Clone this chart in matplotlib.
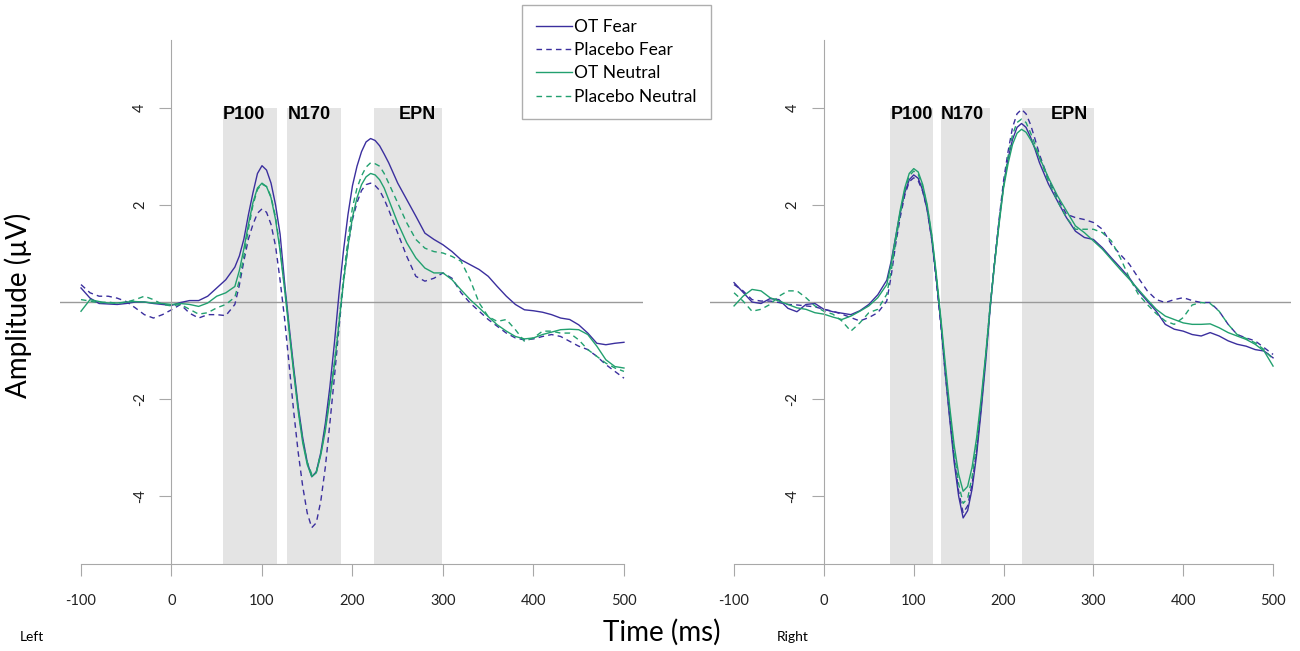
import matplotlib.pyplot as plt

plt.rcParams['font.family'] = ['Lato', 'DejaVu Sans']

# sample times (ms); finer steps around the P100 / N170 / EPN peaks
time_ms = list(range(-100, 71, 10)) + list(range(75, 236, 5)) + list(range(240, 501, 10))

labels = ["OT Fear", "Placebo Fear", "OT Neutral", "Placebo Neutral"]

# ---- left hemisphere ----
left_ot_fear = [0.29, 0.08, -0.03, -0.04, -0.05, -0.03, 0.0, 0.0, -0.03, -0.05, -0.07, -0.01, 0.03, 0.03, 0.12, 0.29, 0.46, 0.72,
                0.95, 1.3, 1.8, 2.25, 2.65, 2.81, 2.72, 2.45, 2.0, 1.4, 0.4, -0.5, -1.35, -2.15, -2.8, -3.3, -3.6, -3.5, -3.1, -2.5,
                -1.75, -0.85, 0.15, 1.05, 1.8, 2.4, 2.8, 3.1, 3.3, 3.37, 3.33, 3.22, 3.05,
                2.87, 2.45, 2.11, 1.77, 1.42, 1.29, 1.18, 1.04, 0.87, 0.77, 0.67, 0.53, 0.32, 0.12, -0.05, -0.16, -0.18, -0.21,
                -0.26, -0.33, -0.36, -0.47, -0.64, -0.85, -0.88, -0.85, -0.83]
left_pl_fear = [0.36, 0.19, 0.12, 0.12, 0.08, 0.01, -0.12, -0.26, -0.33, -0.26, -0.16, -0.05, -0.23, -0.33, -0.26, -0.26, -0.28, -0.05,
                0.35, 0.85, 1.3, 1.6, 1.83, 1.92, 1.85, 1.6, 1.15, 0.45, -0.35, -1.3, -2.25, -3.1, -3.8, -4.35, -4.65, -4.55, -4.1, -3.4,
                -2.5, -1.55, -0.55, 0.4, 1.15, 1.7, 2.05, 2.3, 2.42, 2.45, 2.4, 2.3, 2.12,
                1.9, 1.42, 0.94, 0.53, 0.43, 0.49, 0.60, 0.49, 0.19, -0.02, -0.19, -0.36, -0.50, -0.64, -0.74, -0.78, -0.76, -0.71,
                -0.67, -0.71, -0.81, -0.91, -0.98, -1.12, -1.29, -1.43, -1.57]
left_ot_neutral = [-0.19, 0.05, 0.01, -0.02, -0.02, 0.0, 0.01, 0.0, -0.02, -0.03, -0.05, -0.03, -0.05, -0.09, -0.02, 0.12, 0.19, 0.32,
                   0.65, 1.1, 1.6, 2.05, 2.35, 2.45, 2.38, 2.15, 1.7, 1.05, 0.25, -0.6, -1.45, -2.25, -2.9, -3.35, -3.6, -3.52, -3.15, -2.65,
                   -2.0, -1.3, -0.45, 0.4, 1.15, 1.75, 2.15, 2.42, 2.58, 2.65, 2.62, 2.52, 2.35,
                   2.11, 1.63, 1.22, 0.91, 0.70, 0.60, 0.60, 0.46, 0.25, 0.05, -0.12, -0.30, -0.47, -0.60, -0.71, -0.76, -0.74, -0.67,
                   -0.62, -0.57, -0.56, -0.57, -0.67, -0.91, -1.19, -1.33, -1.36]
left_pl_neutral = [0.05, 0.02, -0.02, 0.0, -0.03, 0.0, 0.05, 0.12, 0.05, -0.05, -0.08, -0.05, -0.15, -0.25, -0.22, -0.12, -0.05, 0.1,
                   0.45, 0.95, 1.5, 2.0, 2.32, 2.43, 2.38, 2.17, 1.75, 1.1, 0.3, -0.55, -1.4, -2.2, -2.85, -3.3, -3.55, -3.5, -3.12, -2.6,
                   -1.95, -1.25, -0.4, 0.5, 1.3, 1.95, 2.35, 2.6, 2.78, 2.87, 2.85, 2.8, 2.65,
                   2.45, 2.04, 1.63, 1.29, 1.11, 1.04, 1.01, 0.94, 0.84, 0.46, -0.02, -0.30, -0.40, -0.36, -0.57, -0.81, -0.74, -0.60,
                   -0.60, -0.64, -0.64, -0.78, -0.98, -1.12, -1.26, -1.36, -1.43]

# ---- right hemisphere ----
right_ot_fear = [0.40, 0.20, 0.0, -0.03, 0.07, 0.05, -0.13, -0.20, -0.05, -0.03, -0.15, -0.20, -0.23, -0.26, -0.18, -0.05, 0.15, 0.45,
                 0.85, 1.35, 1.85, 2.25, 2.52, 2.62, 2.55, 2.3, 1.9, 1.3, 0.5, -0.4, -1.45, -2.4, -3.3, -4.0, -4.45, -4.3, -3.85, -3.15,
                 -2.25, -1.25, -0.15, 0.8, 1.65, 2.4, 2.95, 3.35, 3.6, 3.68, 3.6, 3.4, 3.15,
                 2.87, 2.43, 2.08, 1.74, 1.46, 1.33, 1.29, 1.12, 0.91, 0.71, 0.50, 0.23, 0.02, -0.19, -0.46, -0.56, -0.60, -0.67,
                 -0.70, -0.63, -0.70, -0.80, -0.87, -0.91, -0.98, -1.01, -1.15]
right_pl_fear = [0.36, 0.23, 0.05, 0.02, 0.02, -0.01, -0.05, -0.06, -0.08, -0.10, -0.15, -0.19, -0.25, -0.32, -0.39, -0.32, -0.22, 0.02,
                 0.55, 1.2, 1.75, 2.2, 2.48, 2.56, 2.5, 2.28, 1.9, 1.3, 0.45, -0.45, -1.45, -2.35, -3.2, -3.9, -4.35, -4.2, -3.75, -3.05,
                 -2.15, -1.15, -0.1, 0.85, 1.7, 2.5, 3.1, 3.6, 3.88, 3.97, 3.88, 3.66, 3.36,
                 3.04, 2.53, 2.15, 1.81, 1.74, 1.70, 1.64, 1.50, 1.19, 0.98, 0.78, 0.50, 0.23, 0.05, -0.01, 0.05, 0.09, 0.03,
                 -0.01, -0.01, -0.19, -0.46, -0.67, -0.74, -0.80, -0.94, -1.08]
right_ot_neutral = [-0.08, 0.12, 0.26, 0.23, 0.09, 0.02, -0.05, -0.12, -0.15, -0.22, -0.25, -0.31, -0.36, -0.29, -0.19, -0.08, 0.09, 0.36,
                    0.8, 1.35, 1.9, 2.35, 2.65, 2.75, 2.68, 2.42, 2.0, 1.4, 0.6, -0.3, -1.25, -2.15, -2.95, -3.55, -3.9, -3.8, -3.4, -2.8,
                    -2.0, -1.1, -0.1, 0.8, 1.6, 2.35, 2.85, 3.25, 3.48, 3.56, 3.5, 3.35, 3.18,
                    2.98, 2.56, 2.19, 1.88, 1.57, 1.43, 1.26, 1.09, 0.88, 0.67, 0.47, 0.26, 0.05, -0.15, -0.29, -0.36, -0.43, -0.46,
                    -0.46, -0.45, -0.53, -0.63, -0.70, -0.77, -0.87, -1.01, -1.32]
right_pl_neutral = [0.19, 0.02, -0.19, -0.15, -0.05, 0.12, 0.23, 0.23, 0.09, -0.08, -0.19, -0.25, -0.39, -0.60, -0.43, -0.22, -0.15, 0.16,
                    0.65, 1.25, 1.82, 2.3, 2.6, 2.7, 2.63, 2.38, 1.97, 1.37, 0.55, -0.35, -1.35, -2.25, -3.1, -3.75, -4.15, -4.05, -3.6, -2.95,
                    -2.1, -1.15, -0.1, 0.8, 1.65, 2.4, 3.0, 3.45, 3.7, 3.77, 3.7, 3.49, 3.25,
                    2.98, 2.49, 2.08, 1.74, 1.50, 1.50, 1.50, 1.43, 1.26, 0.91, 0.50, 0.16, -0.05, -0.24, -0.39, -0.46, -0.32, -0.06,
                    -0.01, -0.03, -0.19, -0.46, -0.67, -0.75, -0.84, -0.98, -1.18]

# component windows (ms) and where the labels start
left_windows = [(57, 117), (128, 187), (224, 299)]
right_windows = [(74, 121), (130, 185), (221, 301)]
window_names = ["P100", "N170", "EPN"]
left_label_x = [57, 128, 251]
right_label_x = [74, 130, 253]

x_ticks = [-100, 0, 100, 200, 300, 400, 500]
y_ticks = [-4, -2, 2, 4]

BLUE = "#3b2f9e"
GREEN = "#22a06f"
styles = [(BLUE, "-"), (BLUE, "--"), (GREEN, "-"), (GREEN, "--")]
AXIS_GRAY = "#a8a8a8"


def draw_panel(ax, series, windows, label_x, xlim):
    for (a, b) in windows:
        ax.axvspan(a, b, ymin=0, ymax=(4 + 5.4) / 10.8, color="#e4e4e4", lw=0, zorder=0)
    for name, lx in zip(window_names, label_x):
        ax.text(lx, 4.05, name, ha="left", va="top", fontsize=13, fontweight="bold",
                family=["Liberation Sans", "DejaVu Sans"], zorder=3)
    ax.axhline(0, color="#9a9a9a", lw=1.0, zorder=1)
    for ys, (c, ls), lab in zip(series, styles, labels):
        line, = ax.plot(time_ms, ys, color=c, lw=1.0, label=lab, zorder=2)
        if ls == "--":
            line.set_dashes((4, 3))
    ax.set_xlim(*xlim)
    ax.set_ylim(-5.4, 5.4)
    for s in ["top", "right"]:
        ax.spines[s].set_visible(False)
    ax.spines["left"].set_position(("data", 0))
    ax.spines["left"].set_color(AXIS_GRAY)
    ax.spines["bottom"].set_color(AXIS_GRAY)
    ax.spines["bottom"].set_bounds(-100, 500)
    ax.set_xticks(x_ticks)
    ax.set_xticklabels([str(t) for t in x_ticks])
    ax.set_yticks(y_ticks)
    ax.set_yticklabels([str(t) for t in y_ticks], rotation=90, va="center")
    ax.tick_params(axis="both", direction="out", length=8.5, color=AXIS_GRAY,
                   labelsize=10.5, labelcolor="#222222")
    ax.tick_params(axis="x", pad=13)
    ax.tick_params(axis="y", pad=9)
    ax.set_facecolor("none")


fig = plt.figure(figsize=(13, 6.51), dpi=100)
ax_l = fig.add_axes([0.0463, 0.1336, 0.4483, 0.8049])
ax_r = fig.add_axes([0.5460, 0.1336, 0.4471, 0.8049])

draw_panel(ax_l, [left_ot_fear, left_pl_fear, left_ot_neutral, left_pl_neutral],
           left_windows, left_label_x, (-123, 521))
draw_panel(ax_r, [right_ot_fear, right_pl_fear, right_ot_neutral, right_pl_neutral],
           right_windows, right_label_x, (-127, 520))

handles, _ = ax_l.get_legend_handles_labels()
leg = fig.legend(handles, labels, loc="upper left", bbox_to_anchor=(522 / 1300, 1 - 5 / 651),
                 fontsize=12.5, frameon=True, fancybox=False, edgecolor="#9a9a9a",
                 handlelength=2.1, handletextpad=0.12, labelspacing=0.42, borderpad=0.8,
                 borderaxespad=0)
leg.get_frame().set_linewidth(1.0)

fig.text(18 / 1300, 1 - 305 / 651, "Amplitude (µV)", rotation=90, ha="center", va="center", fontsize=20)
fig.text(662 / 1300, 1 - 632 / 651, "Time (ms)", ha="center", va="center", fontsize=20)
fig.text(20 / 1300, 1 - 637 / 651, "Left", ha="left", va="center", fontsize=10)
fig.text(777 / 1300, 1 - 637 / 651, "Right", ha="left", va="center", fontsize=10)

fig.savefig("out.png", dpi=100)
